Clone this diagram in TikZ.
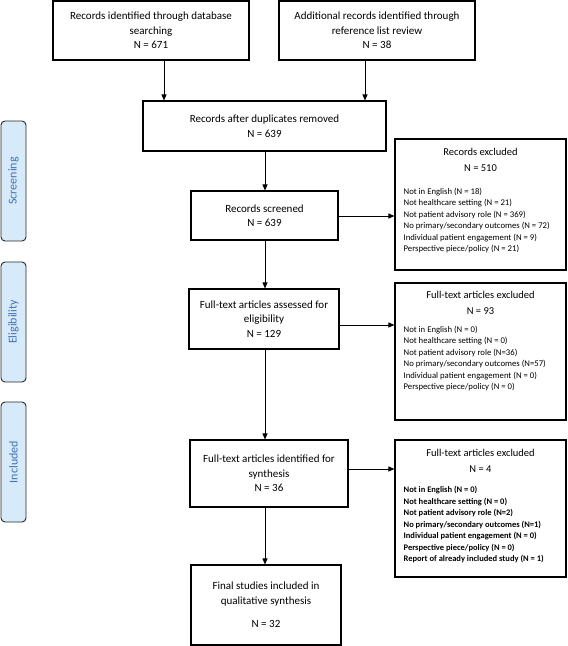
\documentclass[tikz,border=0pt]{standalone}
\usepackage{fontspec}
\setmainfont{Carlito}
\usetikzlibrary{arrows.meta}
\definecolor{sidefill}{RGB}{214,234,250}
\definecolor{sidetext}{RGB}{68,114,180}
\definecolor{sidedraw}{RGB}{40,40,40}
\begin{document}
\begin{tikzpicture}[x=1pt,y=-1pt,
  box/.style={draw=black,line width=1.1pt,align=center,inner sep=2pt,
    font=\fontsize{11}{14.5}\selectfont},
  exbox/.style={draw=black,line width=1.1pt,minimum width=171pt,inner sep=0pt},
  exhead/.style={anchor=north,align=center,inner sep=0pt,
    font=\fontsize{10.5}{15.5}\selectfont},
  exlist/.style={anchor=north west,align=left,inner sep=0pt,
    font=\fontsize{8.7}{11.5}\selectfont},
  side/.style={draw=sidedraw,line width=0.9pt,fill=sidefill,rounded corners=4pt,
    minimum width=25pt,minimum height=120pt,inner sep=0pt},
  sidelab/.style={text=sidetext,rotate=90,font=\fontsize{12}{14}\selectfont},
  arr/.style={line width=0.9pt,-{Triangle[length=6pt,width=5pt]}}
]
\useasboundingbox (0,0) rectangle (568,646);
% main flow boxes
\node[box,minimum width=196pt,minimum height=59pt] (b1) at (151,30.5)
  {Records identified through database\\searching\\N = 671};
\node[box,minimum width=196pt,minimum height=59pt] (b2) at (377,30.5)
  {Additional records identified through\\reference list review\\N = 38};
\node[box,minimum width=243pt,minimum height=50pt] (b3) at (264.5,126)
  {Records after duplicates removed\\N = 639};
\node[box,minimum width=147pt,minimum height=49pt] (b4) at (264.5,215.5)
  {Records screened\\N = 639};
\node[box,minimum width=150pt,minimum height=60pt] (b5) at (264,319)
  {Full-text articles assessed for\\eligibility\\N = 129};
\node[box,minimum width=158pt,minimum height=67pt] (b6) at (269,473.5)
  {Full-text articles identified for\\synthesis\\N = 36};
\node[box,minimum width=150pt,minimum height=80pt] (b7) at (266,605)
  {Final studies included in\\qualitative synthesis\\[9pt]N = 32};
% exclusion boxes
\node[exbox,minimum height=131pt] (e1) at (480.5,204.5) {};
\node[exhead] (e1h) at ([yshift=-10pt]e1.north) {Records excluded\\N = 510};
\node[exlist] (e1l) at ([xshift=9pt,yshift=-49pt]e1.north west)
  {Not in English (N = 18)\\Not healthcare setting (N = 21)\\
   Not patient advisory role (N = 369)\\No primary/secondary outcomes (N = 72)\\
   Individual patient engagement (N = 9)\\Perspective piece/policy (N = 21)};
\node[exbox,minimum height=137pt] (e2) at (480.5,351.5) {};
\node[exhead] (e2h) at ([yshift=-9pt]e2.north) {Full-text articles excluded\\N = 93};
\node[exlist] (e2l) at ([xshift=9pt,yshift=-43pt]e2.north west)
  {Not in English (N = 0)\\Not healthcare setting (N = 0)\\
   Not patient advisory role (N=36)\\No primary/secondary outcomes (N=57)\\
   Individual patient engagement (N = 0)\\Perspective piece/policy (N = 0)};
\node[exbox,minimum height=137pt] (e3) at (480.5,508.5) {};
\node[exhead] (e3h) at ([yshift=-10pt]e3.north) {Full-text articles excluded\\N = 4};
\node[exlist,font=\fontsize{8.5}{11.5}\selectfont\bfseries] (e3l)
  at ([xshift=9pt,yshift=-47pt]e3.north west)
  {Not in English (N = 0)\\Not healthcare setting (N = 0)\\
   Not patient advisory role (N=2)\\No primary/secondary outcomes (N=1)\\
   Individual patient engagement (N = 0)\\Perspective piece/policy (N = 0)\\
   Report of already included study (N = 1)};
% side phase labels
\node[side] (s1) at (13.5,181) {};
\node[sidelab] (l1) at (s1.center) {Screening};
\node[side] (s2) at (13.5,322) {};
\node[sidelab] (l2) at (s2.center) {Eligibility};
\node[side] (s3) at (13.5,462) {};
\node[sidelab] (l3) at (s3.center) {Included};
% connectors
\coordinate (c1) at (164,0);
\coordinate (c2) at (365,0);
\coordinate (sp) at (265,0);
\coordinate (r1) at (0,216);
\coordinate (r2) at (0,325);
\coordinate (r3) at (0,469);
\draw[arr] (b1.south -| c1) -- (b3.north -| c1);
\draw[arr] (b2.south -| c2) -- (b3.north -| c2);
\draw[arr] (b3.south -| sp) -- (b4.north -| sp);
\draw[arr] (b4.south -| sp) -- (b5.north -| sp);
\draw[arr] (b5.south -| sp) -- (b6.north -| sp);
\draw[arr] (b6.south -| sp) -- (b7.north -| sp);
\draw[arr] (b4.east |- r1) -- (e1.west |- r1);
\draw[arr] (b5.east |- r2) -- (e2.west |- r2);
\draw[arr] (b6.east |- r3) -- (e3.west |- r3);
\end{tikzpicture}
\end{document}
